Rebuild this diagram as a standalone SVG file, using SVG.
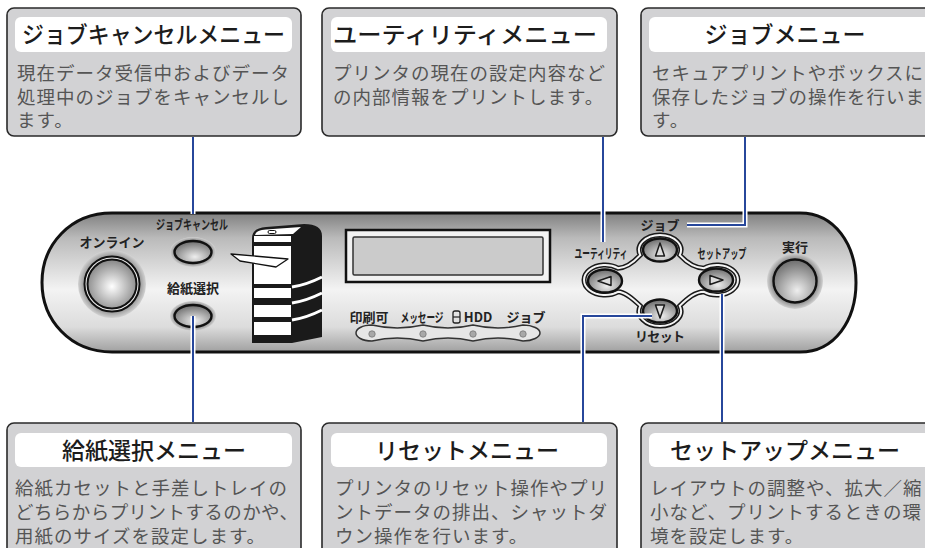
<svg xmlns="http://www.w3.org/2000/svg" width="925" height="548" viewBox="0 0 925 548">
  <style>
    .box { fill: #d2d2d4; stroke: #2a2a2a; stroke-width: 1.6; }
    .tbg { fill: #ffffff; }
    .ttl { font-family: "Noto Sans CJK JP", "Noto Sans", sans-serif; font-size: 23px; font-weight: 500; fill: #1c1c1c; }
    .txt { font-family: "Noto Sans CJK JP", "Noto Sans", sans-serif; font-size: 18.5px; letter-spacing: 1px; fill: #555555; }
    .lbl { font-family: "Noto Sans CJK JP", "Noto Sans", sans-serif; font-size: 13px; font-weight: bold; fill: #222222; text-anchor: middle; }
    .halo-line { fill: none; stroke: #ffffff; stroke-width: 5; }
    .blue-line { fill: none; stroke: #27479b; stroke-width: 2; }
    .ring { stroke: #111111; stroke-width: 2.4; }
    .tri { fill: #dddddd; stroke: #1a1a1a; stroke-width: 1.5; stroke-linejoin: round; }
  </style>
  <defs>
    <linearGradient id="panelGrad" x1="0" y1="0" x2="0" y2="1">
      <stop offset="0" stop-color="#808080"/>
      <stop offset="0.18" stop-color="#bababa"/>
      <stop offset="0.55" stop-color="#f3f3f3"/>
      <stop offset="0.82" stop-color="#dcdcdc"/>
      <stop offset="1" stop-color="#a0a0a0"/>
    </linearGradient>
    <radialGradient id="halo">
      <stop offset="0.62" stop-color="#5a5a5a"/>
      <stop offset="1" stop-color="#d2d2d2"/>
    </radialGradient>
    <radialGradient id="face" cx="0.5" cy="0.55" r="0.6">
      <stop offset="0" stop-color="#ffffff"/>
      <stop offset="1" stop-color="#7a7a7a"/>
    </radialGradient>
    <radialGradient id="faceDark" cx="0.55" cy="0.72" r="0.75">
      <stop offset="0" stop-color="#eeeeee"/>
      <stop offset="1" stop-color="#666666"/>
    </radialGradient>
  </defs>

  <rect width="925" height="548" fill="#ffffff"/>

  <!-- menu description boxes, top row -->
  <g id="box-jobcancel">
    <rect class="box" x="7" y="8" width="294" height="128" rx="7"/>
    <rect class="tbg" x="15" y="17" width="277" height="35" rx="6"/>
    <text class="ttl" x="22" y="43" textLength="263" lengthAdjust="spacingAndGlyphs">ジョブキャンセルメニュー</text>
    <text class="txt" x="17" y="80">現在データ受信中およびデータ</text>
    <text class="txt" x="17" y="103.5">処理中のジョブをキャンセルし</text>
    <text class="txt" x="17" y="127">ます。</text>
  </g>
  <g id="box-utility">
    <rect class="box" x="322" y="8" width="295" height="128" rx="7"/>
    <rect class="tbg" x="331" y="17" width="276" height="35" rx="6"/>
    <text class="ttl" x="333" y="43" textLength="264" lengthAdjust="spacingAndGlyphs">ユーティリティメニュー</text>
    <text class="txt" x="333" y="80">プリンタの現在の設定内容など</text>
    <text class="txt" x="333" y="103.5">の内部情報をプリントします。</text>
  </g>
  <g id="box-job">
    <rect class="box" x="641" y="8" width="300" height="128" rx="7"/>
    <rect class="tbg" x="649" y="17" width="300" height="35" rx="6"/>
    <text class="ttl" x="785" y="43" text-anchor="middle">ジョブメニュー</text>
    <text class="txt" x="652" y="80">セキュアプリントやボックスに</text>
    <text class="txt" x="652" y="103.5">保存したジョブの操作を行いま</text>
    <text class="txt" x="652" y="127">す。</text>
  </g>

  <!-- menu description boxes, bottom row -->
  <g id="box-paper">
    <rect class="box" x="7" y="423" width="294" height="140" rx="7"/>
    <rect class="tbg" x="15" y="433" width="277" height="34" rx="6"/>
    <text class="ttl" x="154" y="459" text-anchor="middle">給紙選択メニュー</text>
    <text class="txt" x="15" y="494.5">給紙カセットと手差しトレイの</text>
    <text class="txt" x="15" y="518.5" textLength="284" lengthAdjust="spacing">どちらからプリントするのかや、</text>
    <text class="txt" x="15" y="542.5">用紙のサイズを設定します。</text>
  </g>
  <g id="box-reset">
    <rect class="box" x="322" y="423" width="295" height="140" rx="7"/>
    <rect class="tbg" x="331" y="433" width="276" height="34" rx="6"/>
    <text class="ttl" x="467" y="459" text-anchor="middle">リセットメニュー</text>
    <text class="txt" x="335" y="494.5">プリンタのリセット操作やプリ</text>
    <text class="txt" x="335" y="518.5">ントデータの排出、シャットダ</text>
    <text class="txt" x="335" y="542.5">ウン操作を行います。</text>
  </g>
  <g id="box-setup">
    <rect class="box" x="641" y="423" width="300" height="140" rx="7"/>
    <rect class="tbg" x="649" y="433" width="300" height="34" rx="6"/>
    <text class="ttl" x="785" y="459" text-anchor="middle">セットアップメニュー</text>
    <text class="txt" x="650" y="494.5">レイアウトの調整や、拡大／縮</text>
    <text class="txt" x="650" y="518.5">小など、プリントするときの環</text>
    <text class="txt" x="650" y="542.5">境を設定します。</text>
  </g>

  <!-- operation panel -->
  <g id="panel">
    <path d="M112,213 L800,213 C835,213 856,245 856,282.5 C856,320 835,352 800,352 L112,352 C70,352 42,320 42,282.5 C42,245 70,213 112,213 Z" fill="url(#panelGrad)" stroke="#111" stroke-width="3"/>
  </g>

  <g id="btn-online">
    <text class="lbl" x="112" y="247">オンライン</text>
    <circle cx="112" cy="284" r="34" fill="url(#halo)"/>
    <circle cx="112" cy="284" r="27.5" fill="#f4f4f4" stroke="#111" stroke-width="2"/>
    <circle cx="112" cy="284" r="24.5" fill="url(#face)" stroke="#111" stroke-width="2"/>
  </g>

  <g id="btn-jobcancel">
    <text class="lbl" x="192" y="229" font-size="12" textLength="72" lengthAdjust="spacingAndGlyphs">ジョブキャンセル</text>
    <ellipse cx="193" cy="252" rx="23" ry="15" fill="url(#halo)"/>
    <ellipse class="ring" cx="193" cy="252" rx="18.5" ry="11" fill="url(#faceDark)"/>
  </g>

  <g id="btn-paper">
    <text class="lbl" x="193" y="293">給紙選択</text>
    <ellipse cx="193" cy="316" rx="23" ry="15" fill="url(#halo)"/>
    <ellipse class="ring" cx="193" cy="316" rx="18.5" ry="11" fill="url(#faceDark)"/>
  </g>

  <g id="printer-icon">
    <path d="M252,238 C252,230 258,228 266,227 L304,224 C316,224 322,228 322,236 L322,337 L292,343 L252,343 Z" fill="#1a1a1a"/>
    <path d="M255,235 C256,231 260,230 266,229.5 L301,227 L293,234 Z" fill="#ffffff"/>
    <rect x="268" y="230.5" width="8" height="3" rx="1.5" fill="none" stroke="#111" stroke-width="1"/>
    <rect x="254" y="236" width="37" height="6" fill="#ffffff"/>
    <rect x="254" y="246" width="37" height="38" fill="#ffffff"/>
    <rect x="254" y="288" width="37" height="10" fill="#ffffff"/>
    <rect x="254" y="305" width="37" height="12" fill="#ffffff"/>
    <rect x="254" y="322" width="37" height="13" fill="#ffffff"/>
    <path d="M292,287 Q306,285 322,277" fill="none" stroke="#ffffff" stroke-width="3"/>
    <path d="M292,303 Q306,301 322,293" fill="none" stroke="#ffffff" stroke-width="3"/>
    <path d="M292,320 Q306,318 322,310" fill="none" stroke="#ffffff" stroke-width="3"/>
    <path d="M231,254 L288,259 L276,267 L240,261 Z" fill="#ffffff" stroke="#111" stroke-width="1.3" stroke-linejoin="round"/>
  </g>

  <g id="lcd">
    <rect x="346" y="230" width="204" height="52" fill="#f2f2f2" stroke="#111" stroke-width="2.5"/>
    <rect x="353" y="237" width="190" height="38" rx="1.5" fill="#cbcbcb" stroke="#333" stroke-width="1.5"/>
  </g>

  <g id="status-leds">
    <text class="lbl" x="369" y="322" font-size="12.5">印刷可</text>
    <text class="lbl" x="422" y="322" font-size="11" textLength="43" lengthAdjust="spacingAndGlyphs">メッセージ</text>
    <rect x="453" y="311" width="7" height="12" rx="2" fill="none" stroke="#222" stroke-width="1.3"/>
    <line x1="453" y1="317" x2="460" y2="317" stroke="#222" stroke-width="1.2"/>
    <text class="lbl" x="478" y="322" font-size="12.5" font-weight="normal">HDD</text>
    <text class="lbl" x="526" y="322" font-size="12.5">ジョブ</text>
    <path d="M372,325 Q397,331 423,325 Q448,331 473,325 Q498,331 523,325 C533,325 540,329 540,333 C540,337 533,341 523,341 Q498,335 473,341 Q448,335 423,341 Q397,335 372,341 C362,341 356,337 356,333 C356,329 362,325 372,325 Z" fill="#e6e6e6" stroke="#333" stroke-width="1.5"/>
    <circle cx="372" cy="334" r="3.2" fill="#a8a8a8" stroke="#777" stroke-width="0.8"/>
    <circle cx="423" cy="334" r="3.2" fill="#a8a8a8" stroke="#777" stroke-width="0.8"/>
    <circle cx="473" cy="334" r="3.2" fill="#a8a8a8" stroke="#777" stroke-width="0.8"/>
    <circle cx="523" cy="334" r="3.2" fill="#a8a8a8" stroke="#777" stroke-width="0.8"/>
  </g>

  <g id="dpad">
    <path d="M640.3,255.1 A21 15 0 1 1 679.7,255.1 C688,264 695,268 704,268.2 A21 15 0 1 1 704,291.8 C695,292 688,298 679.7,305.9 A21 15 0 1 1 640.3,305.9 C632,298 625,292 618,291.8 A21 15 0 1 1 618,268.2 C625,268 632,264 640.3,255.1 Z" fill="none" stroke="#1a1a1a" stroke-width="5"/>
    <path d="M640.3,255.1 A21 15 0 1 1 679.7,255.1 C688,264 695,268 704,268.2 A21 15 0 1 1 704,291.8 C695,292 688,298 679.7,305.9 A21 15 0 1 1 640.3,305.9 C632,298 625,292 618,291.8 A21 15 0 1 1 618,268.2 C625,268 632,264 640.3,255.1 Z" fill="none" stroke="#f4f4f4" stroke-width="2"/>
    <ellipse class="ring" cx="660" cy="250" rx="17" ry="11.5" fill="url(#faceDark)"/>
    <ellipse class="ring" cx="605" cy="281" rx="17" ry="11.5" fill="url(#faceDark)"/>
    <ellipse class="ring" cx="716" cy="280" rx="17" ry="11.5" fill="url(#faceDark)"/>
    <ellipse class="ring" cx="660" cy="311" rx="17" ry="11.5" fill="url(#faceDark)"/>
    <polygon class="tri" points="660,243 655.5,256 664.5,256"/>
    <polygon class="tri" points="598,281 611,276.5 611,285.5"/>
    <polygon class="tri" points="723,280 710,275.5 710,284.5"/>
    <polygon class="tri" points="660,318 655.5,305 664.5,305"/>
    <text class="lbl" x="660" y="230">ジョブ</text>
    <text class="lbl" x="601" y="258" font-size="11.5" textLength="53" lengthAdjust="spacingAndGlyphs">ユーティリティ</text>
    <text class="lbl" x="722" y="258" font-size="11.5" textLength="49" lengthAdjust="spacingAndGlyphs">セットアップ</text>
    <text class="lbl" x="660" y="341" textLength="50" lengthAdjust="spacing">リセット</text>
  </g>

  <g id="btn-execute">
    <text class="lbl" x="795" y="252">実行</text>
    <circle cx="795" cy="281" r="28" fill="url(#halo)"/>
    <circle class="ring" cx="795" cy="281" r="21.5" fill="url(#faceDark)"/>
  </g>

  <!-- leader lines from panel keys to their menu boxes -->
  <g id="connectors">
    <g class="halo-line">
      <path d="M193,138 V214"/>
      <path d="M603,138 V242"/>
      <path d="M745,138 V225 H687"/>
      <path d="M193,316 V421"/>
      <path d="M652,316 H583 V421"/>
      <path d="M722,294 V421"/>
    </g>
    <g class="blue-line">
      <path d="M193,137 V214"/>
      <path d="M603,137 V242"/>
      <path d="M745,137 V225 H687"/>
      <path d="M193,316 V422"/>
      <path d="M652,316 H583 V422"/>
      <path d="M722,294 V422"/>
    </g>
  </g>
</svg>
